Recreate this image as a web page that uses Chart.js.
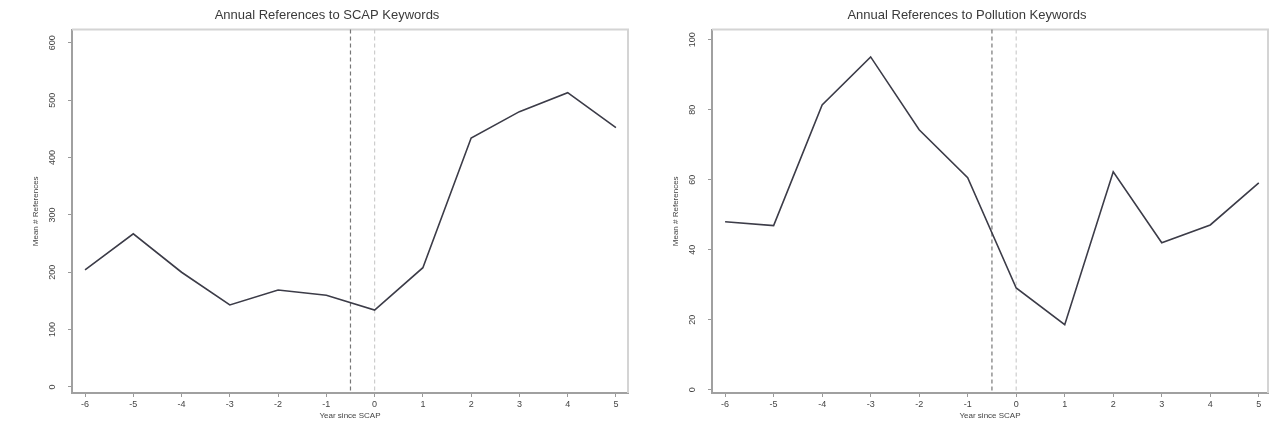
<!DOCTYPE html>
<html lang="en">
<head>
  <meta charset="UTF-8" />
  <title>Annual References</title>
  <script src="https://cdn.jsdelivr.net/npm/chart.js"></script>
  <style>
    body { margin: 0; background: #fff; }
    .row { display: flex; width: 1285px; height: 431px; }
  </style>
</head>
<body>
  <div class="row">
    <canvas id="scap" width="642" height="431"></canvas>
    <canvas id="pollution" width="643" height="431"></canvas>
  </div>

  <script>
    const years = [-6, -5, -4, -3, -2, -1, 0, 1, 2, 3, 4, 5];
    const scapRefs = [204, 267, 200, 143, 169, 160, 134, 208, 434, 480, 513, 452];
    const pollutionRefs = [48, 46.9, 81.4, 95.1, 74.3, 60.6, 29.1, 18.6, 62.3, 42, 47.1, 59.1];
    const scapTicks = [0, 100, 200, 300, 400, 500, 600];
    const pollutionTicks = [0, 20, 40, 60, 80, 100];
    const scapLine = -0.5;
    const startLine = 0;

    const fontFamily = '"Liberation Sans", Arial, sans-serif';

    // frame on top/right and the two vertical reference lines
    const framePlugin = {
      id: 'frame',
      beforeDatasetsDraw(chart) {
        const { ctx, chartArea: a, scales: { x } } = chart;
        ctx.save();
        ctx.strokeStyle = '#d4d4d4';
        ctx.lineWidth = 2;
        ctx.beginPath();
        ctx.moveTo(a.left, a.top);
        ctx.lineTo(a.right, a.top);
        ctx.lineTo(a.right, a.bottom);
        ctx.stroke();

        ctx.setLineDash([4, 3]);
        ctx.lineWidth = 1.2;
        ctx.strokeStyle = '#777';
        let px = x.getPixelForValue(scapLine);
        ctx.beginPath();
        ctx.moveTo(px, a.top);
        ctx.lineTo(px, a.bottom);
        ctx.stroke();

        ctx.strokeStyle = '#cdcdcd';
        px = x.getPixelForValue(startLine);
        ctx.beginPath();
        ctx.moveTo(px, a.top);
        ctx.lineTo(px, a.bottom);
        ctx.stroke();
        ctx.restore();
      }
    };

    function makeChart(id, title, values, yTicks, yMin, yMax, xMin, xMax, pad) {
      return new Chart(document.getElementById(id), {
        type: 'line',
        data: {
          datasets: [{
            data: years.map((y, i) => ({ x: y, y: values[i] })),
            borderColor: '#3c3c48',
            borderWidth: 1.6,
            pointRadius: 0,
            tension: 0,
            fill: false
          }]
        },
        options: {
          responsive: false,
          animation: false,
          layout: { padding: pad },
          plugins: {
            legend: { display: false },
            tooltip: { enabled: false },
            title: {
              display: true,
              text: title,
              color: '#3a3a3a',
              font: { family: fontFamily, size: 13, weight: 'normal' },
              padding: { top: 8, bottom: 6 }
            }
          },
          scales: {
            x: {
              type: 'linear',
              min: xMin,
              max: xMax,
              afterBuildTicks: s => { s.ticks = years.map(v => ({ value: v })); },
              afterFit: s => { s.height = 32; },
              grid: { drawOnChartArea: false, tickLength: 4, color: '#999' },
              border: { color: '#a0a0a0', width: 2 },
              ticks: {
                color: '#444',
                font: { family: fontFamily, size: 9 },
                maxRotation: 0,
                autoSkip: false,
                padding: 2
              },
              title: {
                display: true,
                text: 'Year since SCAP',
                color: '#444',
                font: { family: fontFamily, size: 8 },
                padding: { top: 1, bottom: 4 }
              }
            },
            y: {
              min: yMin,
              max: yMax,
              afterBuildTicks: s => { s.ticks = yTicks.map(v => ({ value: v })); },
              afterFit: s => { s.width = 46; },
              grid: { drawOnChartArea: false, tickLength: 4, color: '#999' },
              border: { color: '#a0a0a0', width: 2 },
              ticks: {
                color: '#444',
                font: { family: fontFamily, size: 9 },
                minRotation: 90,
                maxRotation: 90,
                crossAlign: 'center',
                padding: 8
              },
              title: {
                display: true,
                text: 'Mean # References',
                color: '#444',
                font: { family: fontFamily, size: 8 },
                padding: { top: 5, bottom: 4 }
              }
            }
          }
        },
        plugins: [framePlugin]
      });
    }

    makeChart('scap', 'Annual References to SCAP Keywords', scapRefs, scapTicks,
      -10.5, 623, -6.27, 5.25, { left: 26, right: 14, top: 0, bottom: 6 });
    makeChart('pollution', 'Annual References to Pollution Keywords', pollutionRefs, pollutionTicks,
      -0.9, 102.9, -6.27, 5.19, { left: 24, right: 17, top: 0, bottom: 6 });
  </script>
</body>
</html>
